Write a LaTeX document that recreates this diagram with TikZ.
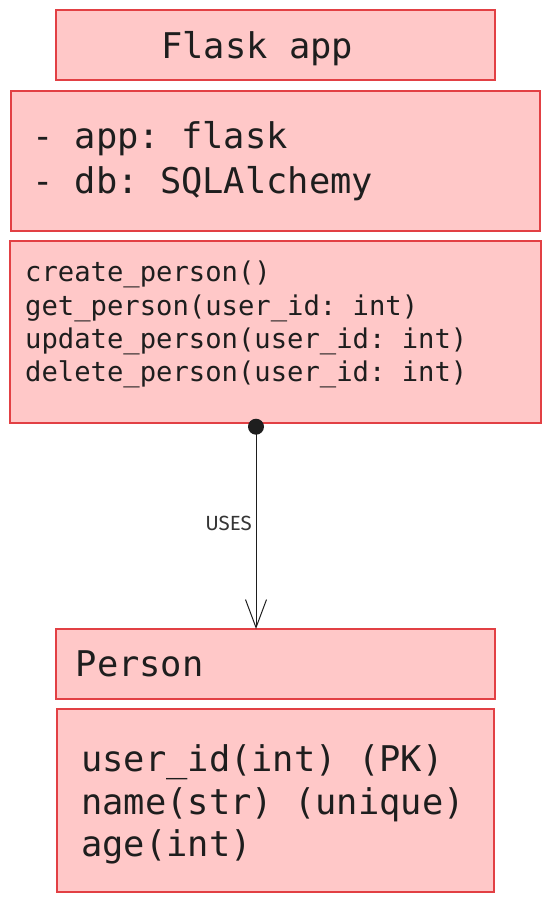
\documentclass[tikz,border=0pt]{standalone}
\usepackage{fontspec}
\setmonofont{DejaVu Sans Mono}
\newfontfamily\labelfont{Fira Sans}
\usetikzlibrary{arrows.meta}
\definecolor{boxfill}{RGB}{255,200,200}
\definecolor{boxdraw}{RGB}{226,64,68}
\definecolor{ink}{RGB}{30,30,30}
\tikzset{
  box/.style={draw=boxdraw, fill=boxfill, line width=1.2pt},
  bigtxt/.style={anchor=base west, inner sep=0pt, text=ink, font=\ttfamily\fontsize{35.4}{44}\selectfont},
  smalltxt/.style={anchor=base west, inner sep=0pt, text=ink, font=\ttfamily\fontsize{27.2}{33.3}\selectfont},
  uses/.style={draw=ink, line width=1pt, -{Straight Barb[length=28pt,width=21pt,line width=1pt]}},
  lbl/.style={anchor=base east, inner sep=0pt, text=ink!90, font=\labelfont\fontsize{20.5}{22}\selectfont},
}
\begin{document}
\begin{tikzpicture}[x=1pt,y=-1pt]
\useasboundingbox (0,0) rectangle (550,901);
% boxes
\path[box] (56,10) rectangle (495,80);
\path[box] (11,91) rectangle (540,231);
\path[box] (10,241) rectangle (541,423);
\path[box] (56,629) rectangle (495,699);
\path[box] (57,709) rectangle (494,892);
\coordinate (personTop) at (256,629);
% texts
\node[bigtxt] (title) at (161,58.3) {Flask app};
\node[bigtxt] (attr1) at (32,148.3) {- app: flask};
\node[bigtxt] (attr2) at (32,193.3) {- db: SQLAlchemy};
\node[smalltxt] (m1) at (25,281.7) {create\_person()};
\node[smalltxt] (m2) at (25,315) {get\_person(user\_id: int)};
\node[smalltxt] (m3) at (25,348.3) {update\_person(user\_id: int)};
\node[smalltxt] (m4) at (25,381.7) {delete\_person(user\_id: int)};
\node[bigtxt] (person) at (75.5,676.7) {Person};
\node[bigtxt] (f1) at (81,771.7) {user\_id(int) (PK)};
\node[bigtxt] (f2) at (81,814) {name(str) (unique)};
\node[bigtxt] (f3) at (81,856.7) {age(int)};
% connector
\coordinate (src) at (256,426.7);
\draw[uses] (src) -- (personTop);
\fill[ink] (src) circle (8);
\node[lbl] (uses) at (252,530) {USES};
\end{tikzpicture}
\end{document}
